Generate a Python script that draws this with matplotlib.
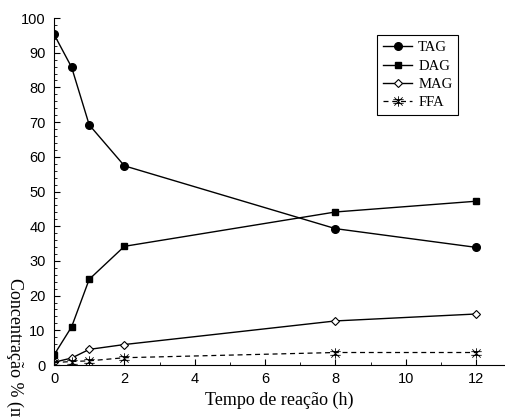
import matplotlib.pyplot as plt
from matplotlib.path import Path
from matplotlib.ticker import MultipleLocator

# reaction time (h) and composition (% m/m)
tempo = [0, 0.5, 1, 2, 8, 12]
tag = [95.3, 85.8, 69.2, 57.4, 39.3, 33.9]
dag = [2.9, 11.0, 24.7, 34.2, 44.1, 47.2]
mag = [0.8, 2.0, 4.5, 5.9, 12.7, 14.7]
ffa = [0.7, 1.0, 1.2, 2.1, 3.6, 3.6]

# asterisk-like marker: vertical stroke, two bars and a cross
verts = [(0, -1), (0, 1), (-1, 0.35), (1, 0.35), (-1, -0.35), (1, -0.35),
         (-0.8, -0.8), (0.8, 0.8), (-0.8, 0.8), (0.8, -0.8)]
codes = [Path.MOVETO, Path.LINETO] * 5
star = Path(verts, codes)

serif = 'Liberation Serif'
sans = 'Liberation Sans'

fig = plt.figure(figsize=(5.05, 4.17), dpi=100)
ax = fig.add_axes([0.107, 0.1247, 0.893, 0.8321])

ax.plot(tempo, tag, '-', color='black', lw=1, marker='o', ms=5.5, label='TAG')
ax.plot(tempo, dag, '-', color='black', lw=1, marker='s', ms=4.6, label='DAG')
ax.plot(tempo, mag, '-', color='black', lw=1, marker='D', ms=4.2,
        mfc='white', mec='black', mew=0.8, label='MAG')
ax.plot(tempo, ffa, '--', color='black', lw=0.9, dashes=(4, 3), marker=star,
        ms=7.5, mew=0.6, label='FFA')

ax.set_xlim(0, 12.82)
ax.set_ylim(0, 100)
ax.set_xticks([0, 2, 4, 6, 8, 10, 12])
ax.set_yticks(range(0, 101, 10))
ax.xaxis.set_minor_locator(MultipleLocator(1))
ax.yaxis.set_minor_locator(MultipleLocator(2))
ax.tick_params(which='both', direction='in', top=False, right=False,
               labelsize=10.5)
ax.tick_params(axis='y', pad=6)
ax.tick_params(axis='x', pad=5)
ax.tick_params(which='major', length=4, width=0.8)
ax.tick_params(which='minor', length=2, width=0.6)
for lab in ax.get_xticklabels() + ax.get_yticklabels():
    lab.set_fontfamily(sans)

ax.spines['top'].set_visible(False)
ax.spines['right'].set_visible(False)
for s in ('left', 'bottom'):
    ax.spines[s].set_linewidth(0.8)

ax.set_xlabel('Tempo de reação (h)', fontfamily=serif, fontsize=13, labelpad=4)
fig.text(0.03, 0.333, 'Concentração % (m/m)', rotation=270, ha='center',
         va='top', fontfamily=serif, fontsize=13)

leg = ax.legend(loc='upper left', bbox_to_anchor=(0.717, 0.95), frameon=True,
                fancybox=False, edgecolor='black', framealpha=1,
                prop={'family': serif, 'size': 10.5}, handlelength=2.0,
                handletextpad=0.4, labelspacing=0.35, borderpad=0.4,
                borderaxespad=0)
leg.get_frame().set_linewidth(0.8)

fig.savefig('out.png', dpi=100)
